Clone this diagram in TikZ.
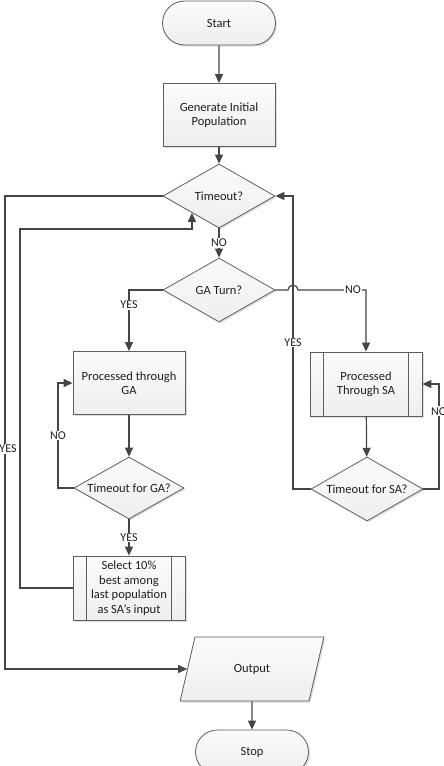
\documentclass[tikz,border=0pt]{standalone}
\usepackage{fontspec}
\setmainfont{Carlito}
\usetikzlibrary{shapes.geometric,shapes.misc,arrows.meta,shadows,calc}
\definecolor{lc}{HTML}{454545}
\definecolor{bc}{HTML}{5E5E5E}
\definecolor{tc}{HTML}{1F1F1F}
\begin{document}
\begin{tikzpicture}[x=1pt,y=-1pt,
  line/.style={draw=lc, line width=1.2pt},
  arr/.style={line, -{Triangle[length=9pt,width=8pt]}},
  base/.style={draw=bc, line width=0.8pt, top color=gray!3, bottom color=gray!13, text=tc,
    font=\fontsize{12.5}{14.5}\selectfont, align=center, inner sep=0pt,
    drop shadow={opacity=0.25, shadow xshift=1.5pt, shadow yshift=-1.5pt}},
  term/.style={base, rounded rectangle, minimum width=113pt, minimum height=44pt},
  proc/.style={base, rectangle, minimum width=112pt, minimum height=63pt},
  pproc/.style={base, rectangle, minimum width=112pt, minimum height=64pt},
  dec/.style={base, diamond, minimum width=112pt, minimum height=64pt, aspect=1.75},
  io/.style={base, trapezium, trapezium left angle=65, trapezium right angle=115,
    trapezium stretches=true, minimum width=144pt, minimum height=64pt},
  lab/.style={fill=white, text=tc, font=\fontsize{12}{12}\selectfont, inner sep=1pt}
]
\useasboundingbox (0,0) rectangle (444,766);

\node[term] (start) at (219,23) {Start};
\node[proc] (gen) at (219,115) {Generate Initial\\Population};
\node[dec] (to) at (219,196) {\makebox[0pt]{Timeout?}};
\node[dec] (gat) at (219,290) {\makebox[0pt]{GA Turn?}};
\node[proc] (pga) at (129,383) {Processed through\\GA};
\node[dec, minimum width=110pt, minimum height=62pt] (tga) at (129,488) {\makebox[0pt]{Timeout for GA?}};
\node[pproc] (sel) at (129,588) {Select 10\%\\best among\\last population\\as SA’s input};
\node[pproc] (psa) at (366,384) {Processed\\Through SA};
\node[dec] (tsa) at (367,489) {\makebox[0pt]{Timeout for SA?}};
\node[io] (out) at (252,669) {Output};
\node[term] (stop) at (252,752) {Stop};

\foreach \n in {sel,psa}{
  \draw[bc, line width=0.8pt] ([xshift=14pt]\n.north west) -- ([xshift=14pt]\n.south west);
  \draw[bc, line width=0.8pt] ([xshift=-14pt]\n.north east) -- ([xshift=-14pt]\n.south east);
}

\coordinate (hopA) at (288,290);
\coordinate (gaL) at (58,488);
\coordinate (saR) at (439,489);
\coordinate (saL) at (293,489);
\coordinate (selL) at (20,229);
\coordinate (far) at (5,669);
\coordinate (toin) at ($(to.west)!0.52!(to.south)$);

\draw[arr] (start) -- (gen);
\draw[arr] (gen) -- (to);
\draw[arr] (to) -- node[lab]{NO} (gat);
\draw[arr] (gat.west) -| node[lab, pos=0.62]{YES} (pga.north);
\draw[arr] (gat.east) -- (hopA) arc(180:360:5) -- node[lab, pos=0.81]{NO} (psa.north |- gat.east) -- (psa.north);
\draw[arr] (pga) -- (tga);
\draw[arr] (tga.west) -- (gaL) |- node[lab, pos=0.25]{NO} (pga.west);
\draw[arr] (tga) -- node[lab]{YES} (sel);
\draw[arr] (sel.west) -| (selL) -| (toin);
\draw[arr] (to.west) -| (far) -- (out);
\node[lab] (yesL) at (8,449) {YES};
\draw[arr] (psa) -- (tsa);
\draw[arr] (tsa.east) -- (saR) |- node[lab, pos=0.37]{NO} (psa.east);
\draw[arr] (tsa.west) -- (saL) |- node[lab, pos=0.25]{YES} (to.east);
\draw[arr] (out) -- (stop);
\end{tikzpicture}
\end{document}
